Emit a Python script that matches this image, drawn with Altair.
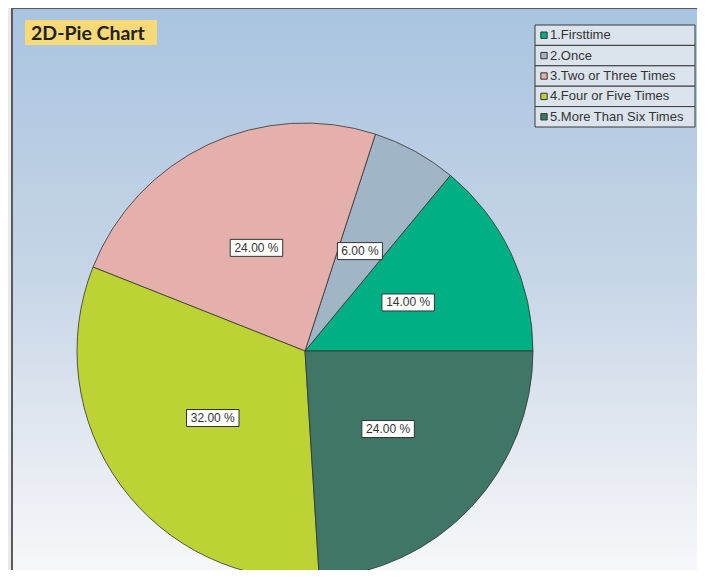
import math
import altair as alt
import pandas as pd

categories = ["1.Firsttime", "2.Once", "3.Two or Three Times", "4.Four or Five Times", "5.More Than Six Times"]
values = [14, 6, 24, 32, 24]
colors = ["#00b084", "#a0b5c5", "#e5b0ab", "#bdd335", "#3f7665"]
title_text = "2D-Pie Chart"

W, H = 689, 562
CX, CY, R = 297, 343, 228
LABEL_R = 114

df = pd.DataFrame({"cat": categories, "value": values, "idx": list(range(len(values)))})
one = pd.DataFrame({"a": [0]})

color_scale = alt.Scale(domain=categories, range=colors)

bg = alt.Chart(one).mark_rect(
    fill=alt.LinearGradient(
        gradient="linear",
        stops=[
            alt.GradientStop(offset=0, color="#a9c4e0"),
            alt.GradientStop(offset=0.45, color="#c6d5e6"),
            alt.GradientStop(offset=0.8, color="#e9edf3"),
            alt.GradientStop(offset=1, color="#f9fafb"),
        ],
        x1=0, x2=0, y1=0, y2=1,
    ),
    stroke="#5a5a5a", strokeWidth=2,
).encode(x=alt.value(4), x2=alt.value(692), y=alt.value(0), y2=alt.value(590))

title_box = alt.Chart(one).mark_rect(fill="#f7d978").encode(
    x=alt.value(17), x2=alt.value(149), y=alt.value(12), y2=alt.value(37))
title_txt = alt.Chart(one).mark_text(
    text=title_text, font="Lato", fontSize=19.5, fontWeight="bold", color="#222",
    align="left", baseline="alphabetic").encode(x=alt.value(23), y=alt.value(32))

pie = alt.Chart(df).mark_arc(radius=R, stroke="#333", strokeWidth=0.8).encode(
    theta=alt.Theta("value:Q", stack=True,
                    scale=alt.Scale(range=[math.pi / 2, math.pi / 2 + 2 * math.pi])),
    order=alt.Order("idx:Q", sort="descending"),
    color=alt.Color("cat:N", scale=color_scale, legend=None),
    x=alt.value(CX), y=alt.value(CY),
)

lab = alt.Chart(df).transform_joinaggregate(
    total="sum(value)"
).transform_window(
    cum="sum(value)", sort=[alt.SortField("idx")], frame=[None, 0]
).transform_calculate(
    ang="(datum.cum - datum.value/2) / datum.total * 2 * PI",
    lx=f"{CX} + {LABEL_R} * cos(datum.ang)",
    ly=f"{CY} - {LABEL_R} * sin(datum.ang)",
    txt="format(datum.value, '.2f') + ' %'",
    bw="7.5 * length(datum.txt)",
    x1="datum.lx - datum.bw/2", x2="datum.lx + datum.bw/2",
    y1="datum.ly - 8.5", y2="datum.ly + 8.5",
)
lab_box = lab.mark_rect(fill="white", stroke="#333", strokeWidth=1).encode(
    x=alt.X("x1:Q", scale=None), x2="x2:Q",
    y=alt.Y("y1:Q", scale=None), y2="y2:Q")
lab_txt = lab.mark_text(font="Liberation Sans", fontSize=12, color="#333").encode(
    x=alt.X("lx:Q", scale=None), y=alt.Y("ly:Q", scale=None), text="txt:N")

leg = alt.Chart(df).transform_calculate(
    top="17 + datum.idx * 20.4",
    bot="17 + (datum.idx + 1) * 20.4",
    mid="17 + (datum.idx + 0.5) * 20.4",
)
leg_row = leg.mark_rect(fill="#dbe3ec", stroke="#3a3a3a", strokeWidth=1).encode(
    x=alt.value(527), x2=alt.value(687),
    y=alt.Y("top:Q", scale=None), y2="bot:Q")
leg_sym = leg.mark_point(shape="square", filled=True, size=40, stroke="#333",
                         strokeWidth=1, opacity=1).encode(
    x=alt.value(536), y=alt.Y("mid:Q", scale=None),
    fill=alt.Fill("cat:N", scale=color_scale, legend=None))
leg_txt = leg.mark_text(font="Liberation Sans", fontSize=13, color="#333",
                        align="left", baseline="middle").encode(
    x=alt.value(542), y=alt.Y("mid:Q", scale=None), text="cat:N")

chart = alt.layer(
    bg, title_box, title_txt, pie, lab_box, lab_txt, leg_row, leg_sym, leg_txt
).properties(
    width=W, height=H, autosize=alt.AutoSizeParams(type="none"), padding=0,
    background="#e9e9eb",
).configure_view(stroke=None)

chart.save("out.html", embed_options={"renderer": "svg", "actions": False})
